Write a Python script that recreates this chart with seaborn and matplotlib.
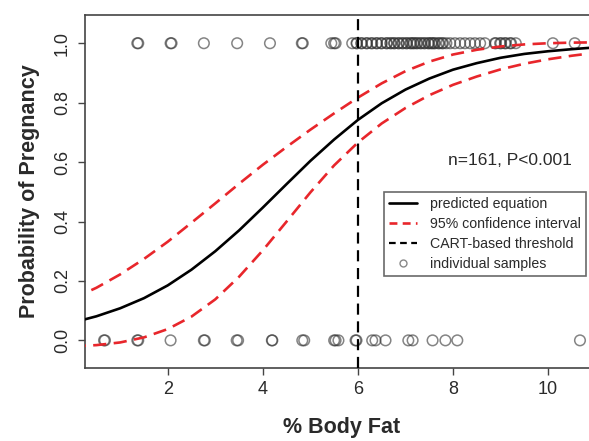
import matplotlib
matplotlib.use("Agg")
import matplotlib.pyplot as plt
from matplotlib.lines import Line2D
import seaborn as sns

# ===============================
# DATA
# ===============================
curve_x = [0.0, 0.5, 1.0, 1.5, 2.0, 2.5, 3.0, 3.5, 4.0, 4.5, 5.0, 5.5,
           6.0, 6.5, 7.0, 7.5, 8.0, 8.5, 9.0, 9.5, 10.0, 10.5, 11.0]
pred_y = [0.060, 0.081, 0.108, 0.142, 0.185, 0.238, 0.300, 0.370, 0.447, 0.526, 0.604, 0.676,
          0.742, 0.798, 0.844, 0.881, 0.911, 0.933, 0.951, 0.964, 0.973, 0.980, 0.986]
ci_upper = [0.140, 0.177, 0.222, 0.274, 0.332, 0.396, 0.461, 0.527, 0.591, 0.651, 0.709, 0.764,
            0.817, 0.865, 0.906, 0.938, 0.962, 0.978, 0.989, 0.996, 1.000, 1.002, 1.003]
ci_lower = [-0.020, -0.016, -0.007, 0.010, 0.038, 0.080, 0.138, 0.214, 0.303, 0.400, 0.498, 0.589,
            0.666, 0.730, 0.782, 0.825, 0.860, 0.888, 0.912, 0.931, 0.946, 0.958, 0.968]

# samples with pregnancy (y = 1)
pregnant_x = [1.36, 1.38, 2.06, 2.08, 2.76, 3.46, 4.15, 4.82, 4.84, 5.44, 5.50, 5.53,
              5.88, 5.97, 5.98, 6.07, 6.08, 6.18, 6.19, 6.28, 6.30, 6.39, 6.40, 6.49, 6.50,
              6.60, 6.61, 6.68, 6.70, 6.76, 6.77, 6.85, 6.86, 6.93, 6.95, 7.02, 7.03, 7.10,
              7.12, 7.16, 7.18, 7.23, 7.25, 7.31, 7.33, 7.39, 7.41, 7.48, 7.49, 7.54, 7.56,
              7.60, 7.62, 7.69, 7.71, 7.77, 7.79, 7.86, 7.94, 8.04, 8.15, 8.25, 8.36, 8.46,
              8.57, 8.67, 8.88, 8.90, 8.99, 9.01, 9.09, 9.11, 9.20, 9.22, 9.32, 10.10, 10.56]
# samples without pregnancy (y = 0)
not_pregnant_x = [0.66, 0.68, 1.36, 1.38, 2.06, 2.76, 2.78, 3.45, 3.48, 4.19, 4.20, 4.83,
                  4.87, 5.50, 5.53, 5.59, 5.95, 5.97, 6.30, 6.37, 6.58, 7.06, 7.15, 7.57,
                  7.84, 8.09, 10.67]

threshold = 6.0
x_ticks = [2, 4, 6, 8, 10]
y_ticks = [0.0, 0.2, 0.4, 0.6, 0.8, 1.0]
legend_labels = ["predicted equation", "95% confidence interval",
                 "CART-based threshold", "individual samples"]

# ===============================
# STYLE
# ===============================
sns.set_theme(style="white")
plt.rcParams['font.family'] = ['Liberation Sans', 'DejaVu Sans']

RED = "#e8262b"
TXT = "#2a2a2a"
DASH = (0, (5, 2.8))

fig = plt.figure(figsize=(5.89, 4.41), dpi=100)
ax = fig.add_axes([85 / 589, 73 / 441, 514 / 589, 353 / 441])

# ===============================
# PLOT
# ===============================
sns.scatterplot(x=pregnant_x, y=[1.0] * len(pregnant_x), ax=ax, color="#333333",
                s=58, linewidth=1.1, alpha=0.6, marker="o", zorder=2)
sns.scatterplot(x=not_pregnant_x, y=[0.0] * len(not_pregnant_x), ax=ax, color="#333333",
                s=58, linewidth=1.1, alpha=0.6, marker="o", zorder=2)
for coll in ax.collections:
    coll.set_facecolor("none")
    coll.set_edgecolor("#333333")

sns.lineplot(x=curve_x, y=pred_y, ax=ax, color="black", linewidth=1.9, zorder=3)
sns.lineplot(x=curve_x, y=ci_upper, ax=ax, color=RED, linewidth=1.9, linestyle=DASH, zorder=3)
sns.lineplot(x=curve_x, y=ci_lower, ax=ax, color=RED, linewidth=1.9, linestyle=DASH, zorder=3)
ax.axvline(threshold, color="black", linewidth=1.6, linestyle=(0, (5, 3)), zorder=3)

ax.set_xlim(0.26, 11.07)
ax.set_ylim(-0.093, 1.095)
ax.set_xticks(x_ticks)
ax.set_yticks(y_ticks)
ax.set_yticklabels([f"{v:.1f}" for v in y_ticks], rotation=90, va="center")
ax.tick_params(axis="both", which="both", direction="out", length=5, width=1,
               color="#444444", labelsize=13, labelcolor=TXT, bottom=True, left=True, pad=4)
ax.tick_params(axis="y", pad=5)

for sp in ax.spines.values():
    sp.set_color("#444444")
    sp.set_linewidth(1.2)

ax.set_xlabel("% Body Fat", fontsize=15.5, fontweight="bold", color=TXT, labelpad=14)
ax.set_ylabel("Probability of Pregnancy", fontsize=15.5, fontweight="bold", color=TXT, labelpad=10)

ax.text(0.706, 0.589, "n=161, P<0.001", transform=ax.transAxes, fontsize=12.5,
        color=TXT, ha="left", va="center")

handles = [
    Line2D([], [], color="black", linewidth=1.9),
    Line2D([], [], color=RED, linewidth=1.9, linestyle=(0, (3, 2))),
    Line2D([], [], color="black", linewidth=1.6, linestyle=(0, (3, 2))),
    Line2D([], [], color="#888888", marker="o", linestyle="none", markersize=5,
           markerfacecolor="none", markeredgewidth=1),
]
leg = ax.legend(handles, legend_labels, loc="upper left", bbox_to_anchor=(0.5817, 0.4985),
                borderaxespad=0, frameon=True, fancybox=False, fontsize=10.2,
                handlelength=2.0, handletextpad=0.9, labelspacing=0.42, borderpad=0.35)
leg.get_frame().set_edgecolor("#444444")
leg.get_frame().set_linewidth(1.2)
for t in leg.get_texts():
    t.set_color(TXT)

fig.savefig("out.png", dpi=100)
